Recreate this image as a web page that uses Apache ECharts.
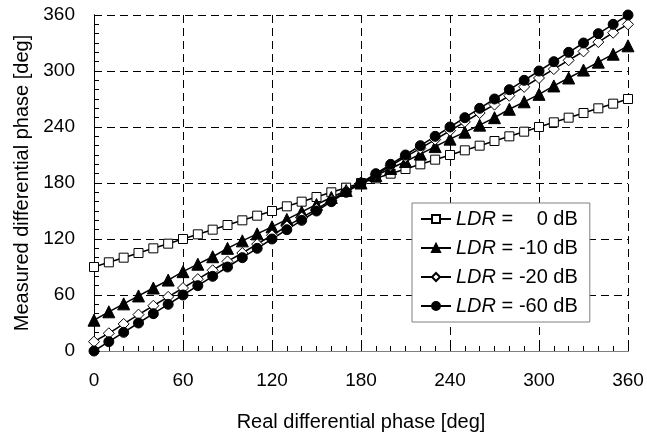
<!DOCTYPE html>
<html>
<head>
<meta charset="utf-8">
<script src="https://cdn.jsdelivr.net/npm/echarts@6/dist/echarts.min.js"></script>
<style>
  html, body { margin: 0; padding: 0; background: #fff; }
  #chart { width: 647px; height: 437px; }
</style>
</head>
<body>
<div id="chart"></div>
<script>
// real differential phase, every 10 deg
var phaseReal = [0, 10, 20, 30, 40, 50, 60, 70, 80, 90, 100, 110, 120, 130, 140, 150, 160, 170, 180,
  190, 200, 210, 220, 230, 240, 250, 260, 270, 280, 290, 300, 310, 320, 330, 340, 350, 360];

// measured differential phase for each LDR
var ldr0 = [90, 95, 100, 105, 110, 115, 120, 125, 130, 135, 140, 145, 150, 155, 160, 165, 170, 175, 180,
  185, 190, 195, 200, 205, 210, 215, 220, 225, 230, 235, 240, 245, 250, 255, 260, 265, 270];
var ldr10 = [33, 42, 50.5, 59, 67.5, 76, 85, 93, 101, 110, 118, 125.5, 133, 141, 149, 157, 164.5, 172, 180,
  188, 195.5, 203, 211, 219, 227, 234.5, 242, 250, 259, 267, 275, 284, 292.5, 301, 309.5, 318, 327];
var ldr20 = [10, 19, 29, 39, 48.5, 58, 67.5, 77, 86.5, 96, 105, 114.5, 124, 133.5, 143, 152, 161.5, 171, 180,
  189, 198.5, 208, 217, 226.5, 236, 245.5, 255, 264, 273.5, 283, 292.5, 302, 311.5, 321, 331, 341, 350];
var ldr60 = [0, 10, 20, 30, 40, 50, 60, 70, 80, 90, 100, 110, 120, 130, 140, 150, 160, 170, 180,
  190, 200, 210, 220, 230, 240, 250, 260, 270, 280, 290, 300, 310, 320, 330, 340, 350, 360];

var seriesNames = ['0 dB', '-10 dB', '-20 dB', '-60 dB'];

function pairs(ys) {
  return phaseReal.map(function (x, i) { return [x, ys[i]]; });
}

var chart = echarts.init(document.getElementById('chart'), null, { renderer: 'canvas' });

var font = 'Liberation Sans, Arial, sans-serif';

var axisCommon = {
  type: 'value',
  min: 0,
  max: 360,
  interval: 60,
  axisLine: { show: true, lineStyle: { color: '#000', width: 1 } },
  axisTick: { show: true, inside: true, length: 6, lineStyle: { color: '#000' } },
  minorTick: { show: true, splitNumber: 6, length: 5, lineStyle: { color: '#000' } },
  splitLine: { show: true, lineStyle: { color: '#000', type: [8, 5], width: 1 } },
  axisLabel: { color: '#000', fontSize: 18, fontFamily: font }
};

var option = {
  animation: false,
  backgroundColor: '#fff',
  grid: { left: 94, right: 19, top: 15, bottom: 84 },
  legend: {
    orient: 'vertical',
    left: 412,
    top: 203,
    padding: [6, 12, 6, 8],
    itemGap: 9,
    itemWidth: 30,
    itemHeight: 10,
    backgroundColor: '#fff',
    borderColor: '#808080',
    borderWidth: 1,
    data: seriesNames,
    formatter: function (name) {
      return '{i|LDR} = {v|' + name + '}';
    },
    textStyle: {
      color: '#000',
      fontSize: 20,
      fontFamily: font,
      rich: {
        i: { fontStyle: 'italic', fontSize: 20, fontFamily: font },
        v: { width: 59, align: 'right', fontSize: 20, fontFamily: font }
      }
    }
  },
  xAxis: [
    Object.assign({}, axisCommon, {
      name: 'Real differential phase [deg]',
      nameLocation: 'middle',
      nameGap: 61,
      nameTextStyle: { color: '#000', fontSize: 20, fontFamily: font },
      axisLabel: { color: '#000', fontSize: 19, fontFamily: font, margin: 20 }
    }),
    {
      type: 'value', position: 'top', min: 0, max: 360,
      axisLine: { show: true, lineStyle: { color: '#808080' } },
      axisTick: { show: false }, axisLabel: { show: false }, splitLine: { show: false }
    }
  ],
  yAxis: [
    Object.assign({}, axisCommon, {
      name: 'Measured differential phase [deg]',
      nameLocation: 'middle',
      nameGap: 60,
      nameTextStyle: { color: '#000', fontSize: 20, fontFamily: font },
      axisLabel: { color: '#000', fontSize: 19, fontFamily: font, margin: 19 }
    }),
    {
      type: 'value', position: 'right', min: 0, max: 360,
      axisLine: { show: true, lineStyle: { color: '#000' } },
      axisTick: { show: false }, axisLabel: { show: false }, splitLine: { show: false }
    }
  ],
  series: [
    {
      name: seriesNames[0], type: 'line', data: pairs(ldr0),
      symbol: 'rect', symbolSize: 9, showAllSymbol: true,
      lineStyle: { color: '#000', width: 1.5 },
      itemStyle: { color: '#fff', borderColor: '#000', borderWidth: 1 }
    },
    {
      name: seriesNames[1], type: 'line', data: pairs(ldr10),
      symbol: 'triangle', symbolSize: 12, showAllSymbol: true,
      lineStyle: { color: '#000', width: 1.5 },
      itemStyle: { color: '#000', borderColor: '#000', borderWidth: 1 }
    },
    {
      name: seriesNames[2], type: 'line', data: pairs(ldr20),
      symbol: 'diamond', symbolSize: 11, showAllSymbol: true,
      lineStyle: { color: '#000', width: 1.5 },
      itemStyle: { color: '#fff', borderColor: '#000', borderWidth: 1 }
    },
    {
      name: seriesNames[3], type: 'line', data: pairs(ldr60),
      symbol: 'circle', symbolSize: 10, showAllSymbol: true,
      lineStyle: { color: '#000', width: 1.5 },
      itemStyle: { color: '#000', borderColor: '#000', borderWidth: 1 }
    }
  ]
};

chart.setOption(option);
</script>
</body>
</html>
